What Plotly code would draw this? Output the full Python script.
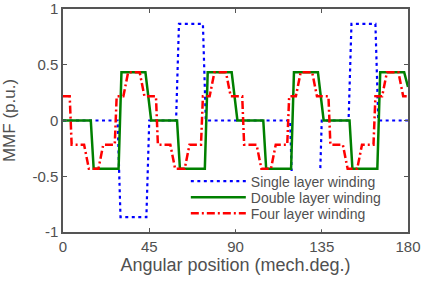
import plotly.graph_objects as go

# Angular position (mech. deg.) and MMF (p.u.)
single_x = [0, 28.5, 30, 43.5, 45, 59, 60.5, 73, 74.5, 118.5, 120, 133.5, 135, 149, 150.5, 163, 164.5, 180]
single_y = [0, 0, -0.866, -0.866, 0, 0, 0.866, 0.866, 0, 0, -0.866, -0.866, 0, 0, 0.866, 0.866, 0, 0]

double_x = [0, 14.5, 16, 29, 30.5, 43, 46, 59.5, 61, 74, 75.5, 88, 91, 104.5, 106, 119, 120.5, 133, 136,
            149.5, 151, 164, 165.5, 178, 180]
double_y = [0, 0, -0.433, -0.433, 0.433, 0.433, 0, 0, -0.433, -0.433, 0.433, 0.433, 0, 0, -0.433, -0.433,
            0.433, 0.433, 0, 0, -0.433, -0.433, 0.433, 0.433, 0.3]

four_x = [0, 3.5, 4.5, 11, 13.5, 18.5, 21, 27, 28, 31.5, 34, 40, 42.5,
          48.5, 49.5, 56, 58.5, 63.5, 66, 72, 73, 76.5, 79, 85, 87.5,
          93.5, 94.5, 101, 103.5, 108.5, 111, 117, 118, 121.5, 124, 130, 132.5,
          138.5, 139.5, 146, 148.5, 153.5, 156, 162, 163, 166.5, 169, 175, 177.5, 180]
four_y = [0.2165, 0.2165, -0.2165, -0.2165, -0.433, -0.433, -0.2165, -0.2165, 0.2165, 0.2165, 0.433, 0.433, 0.2165,
          0.2165, -0.2165, -0.2165, -0.433, -0.433, -0.2165, -0.2165, 0.2165, 0.2165, 0.433, 0.433, 0.2165,
          0.2165, -0.2165, -0.2165, -0.433, -0.433, -0.2165, -0.2165, 0.2165, 0.2165, 0.433, 0.433, 0.2165,
          0.2165, -0.2165, -0.2165, -0.433, -0.433, -0.2165, -0.2165, 0.2165, 0.2165, 0.433, 0.433, 0.2165, 0.2165]

x_ticks = [0, 45, 90, 135, 180]
y_ticks = [-1, -0.5, 0, 0.5, 1]
y_tick_text = ["-1", "-0.5", "0", "0.5", "1"]

names = ["Single layer winding", "Double layer winding", "Four layer winding"]

fig = go.Figure()
fig.add_trace(go.Scatter(x=single_x, y=single_y, mode="lines", name=names[0], legend="legend",
                         line=dict(color="#0000ff", width=2.2, dash="3px,3.5px")))
fig.add_trace(go.Scatter(x=double_x, y=double_y, mode="lines", name=names[1], legend="legend2",
                         line=dict(color="#008000", width=2.5)))
fig.add_trace(go.Scatter(x=four_x, y=four_y, mode="lines", name=names[2], legend="legend3",
                         line=dict(color="#ff0000", width=2.5, dash="8px,3px,2px,3px")))

axis_common = dict(showline=True, linecolor="#555555", linewidth=1.5, mirror="allticks",
                   ticks="inside", ticklen=4, tickcolor="#555555", showgrid=False, zeroline=False,
                   automargin=False,
                   tickfont=dict(family="Liberation Sans", size=15, color="#505050"))

fig.update_xaxes(range=[0, 180], tickvals=x_ticks,
                 title=dict(text="Angular position (mech.deg.)", font=dict(family="Liberation Sans", size=18, color="#505050"), standoff=2),
                 **axis_common)
fig.update_yaxes(range=[-1, 1], tickvals=y_ticks, ticktext=y_tick_text,
                 title=dict(text="MMF (p.u.)", font=dict(family="Liberation Sans", size=17, color="#505050"), standoff=14),
                 **axis_common)

leg_common = dict(x=0.356, xanchor="left", yanchor="middle", bgcolor="rgba(0,0,0,0)", borderwidth=0,
                  font=dict(family="Liberation Sans", size=14, color="#505050"), itemwidth=55)

fig.update_layout(
    width=422, height=281,
    margin=dict(l=63, r=14, t=9, b=49, autoexpand=False),
    paper_bgcolor="white", plot_bgcolor="white",
    showlegend=True,
    legend=dict(y=0.226, **leg_common),
    legend2=dict(y=0.154, **leg_common),
    legend3=dict(y=0.082, **leg_common),
    shapes=[dict(type="rect", xref="paper", yref="paper", x0=0.357, x1=0.975, y0=0.012, y1=0.2735,
                 fillcolor="white", line=dict(width=0), layer="above")],
    font=dict(family="Liberation Sans"),
)

fig.write_html("out.html", config={"displayModeBar": False},
               post_script="document.body.style.margin='0';")
